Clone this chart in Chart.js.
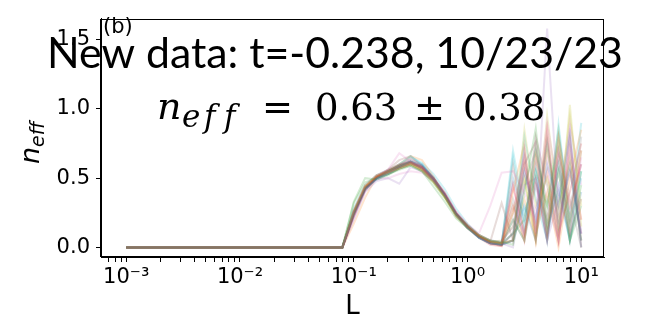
<!DOCTYPE html>
<html>
<head>
<meta charset="utf-8">
<script src="https://cdn.jsdelivr.net/npm/chart.js@4.4.1/dist/chart.umd.min.js"></script>
<style>
html,body{margin:0;padding:0;background:#fff;}
canvas{display:block;}
</style>
</head>
<body>
<canvas id="c" width="654" height="323"></canvas>
<script>
// ---- data ----
const L = [0.001, 0.0794, 0.1, 0.1259, 0.1585, 0.1995, 0.2512, 0.3162, 0.3981, 0.5012, 0.631, 0.7943,
           1.0, 1.259, 1.585, 1.995, 2.512, 3.162, 3.981, 5.012, 6.31, 7.943, 10.0];

const runs = [
  [0,0,0.24,0.42,0.50,0.55,0.59,0.63,0.60,0.50,0.38,0.24,0.14,0.07,0.03,0.02,0.10,0.55,0.20,0.75,0.15,0.60,0.05],
  [0,0,0.26,0.44,0.51,0.54,0.57,0.60,0.56,0.48,0.37,0.23,0.15,0.08,0.04,0.03,0.30,0.05,0.65,0.10,0.80,0.20,0.70],
  [0,0,0.33,0.50,0.49,0.52,0.57,0.59,0.55,0.47,0.36,0.24,0.16,0.09,0.05,0.04,0.02,0.40,0.86,0.15,0.55,0.05,0.45],
  [0,0,0.22,0.41,0.51,0.56,0.60,0.62,0.58,0.50,0.39,0.25,0.15,0.08,0.03,0.01,0.45,0.10,0.50,0.05,0.70,0.30,0.60],
  [0,0,0.20,0.40,0.48,0.50,0.46,0.58,0.55,0.48,0.38,0.25,0.16,0.09,0.05,0.04,0.15,0.70,0.10,1.58,0.25,0.55,0.10],
  [0,0,0.25,0.43,0.50,0.54,0.58,0.61,0.57,0.49,0.38,0.24,0.15,0.08,0.04,0.32,0.05,0.60,0.76,0.20,0.65,0.10,0.35],
  [0,0,0.27,0.45,0.52,0.56,0.68,0.62,0.58,0.50,0.40,0.26,0.17,0.10,0.30,0.54,0.55,0.40,0.20,0.65,0.05,0.75,0.20],
  [0,0,0.23,0.42,0.50,0.53,0.57,0.60,0.58,0.49,0.37,0.23,0.14,0.07,0.03,0.02,0.20,0.05,0.76,0.10,0.60,0.15,0.80],
  [0,0,0.25,0.44,0.51,0.55,0.59,0.61,0.56,0.47,0.36,0.23,0.14,0.08,0.04,0.03,0.05,0.85,0.30,0.50,0.10,1.03,0.15],
  [0,0,0.28,0.45,0.52,0.56,0.60,0.66,0.60,0.49,0.37,0.23,0.14,0.07,0.03,0.02,0.65,0.15,0.55,0.05,0.89,0.20,0.50],
  [0,0,0.24,0.43,0.49,0.53,0.58,0.62,0.59,0.51,0.39,0.25,0.15,0.07,0.03,0.02,0.05,0.30,0.05,0.60,0.30,0.80,0.00],
  [0,0,0.25,0.44,0.52,0.55,0.60,0.66,0.63,0.51,0.37,0.24,0.16,0.09,0.04,0.02,0.40,0.75,0.10,0.40,0.00,0.50,0.85],
  [0,0,0.26,0.42,0.50,0.53,0.56,0.59,0.55,0.44,0.33,0.21,0.14,0.08,0.05,0.03,0.10,0.20,0.70,0.30,0.75,0.05,0.30],
  [0,0,0.23,0.43,0.51,0.55,0.59,0.64,0.59,0.50,0.38,0.24,0.14,0.07,0.02,0.01,0.25,0.65,0.05,0.85,0.10,0.40,0.75],
  [0,0,0.22,0.41,0.50,0.54,0.58,0.61,0.57,0.49,0.38,0.24,0.15,0.08,0.04,0.03,0.00,0.45,0.50,0.05,0.35,0.85,0.10],
  [0,0,0.25,0.43,0.51,0.55,0.59,0.62,0.58,0.49,0.38,0.24,0.15,0.08,0.04,0.03,0.60,0.10,0.80,0.45,0.05,0.70,0.05],
  [0,0,0.26,0.44,0.50,0.50,0.53,0.55,0.54,0.48,0.37,0.23,0.14,0.07,0.03,0.02,0.05,0.55,0.25,0.90,0.40,0.10,0.65],
  [0,0,0.24,0.42,0.51,0.55,0.58,0.61,0.58,0.50,0.39,0.25,0.15,0.08,0.04,0.03,0.35,0.05,0.45,0.20,0.80,0.35,0.00],
  [0,0,0.27,0.45,0.52,0.55,0.58,0.60,0.55,0.47,0.36,0.22,0.14,0.08,0.04,0.05,0.15,0.50,0.05,0.70,0.25,0.95,0.30],
  [0,0,0.25,0.44,0.50,0.54,0.60,0.65,0.61,0.53,0.42,0.28,0.17,0.09,0.04,0.02,0.05,0.80,0.35,0.05,0.60,0.20,0.90],
  [0,0,0.26,0.43,0.50,0.55,0.59,0.62,0.57,0.48,0.37,0.24,0.15,0.08,0.04,0.03,0.50,0.20,0.60,0.10,0.45,0.05,0.40],
  [0,0,0.17,0.36,0.51,0.54,0.58,0.61,0.57,0.50,0.39,0.25,0.16,0.09,0.05,0.03,0.05,0.35,0.05,0.75,0.15,0.65,0.20],
  [0,0,0.32,0.47,0.50,0.53,0.57,0.60,0.56,0.48,0.37,0.23,0.14,0.08,0.04,0.02,0.20,0.05,0.55,0.30,0.85,0.15,0.55],
  [0,0,0.25,0.43,0.51,0.55,0.59,0.61,0.58,0.49,0.37,0.24,0.15,0.08,0.03,0.02,0.10,0.60,0.15,0.55,0.05,0.80,0.00],
  [0,0,0.24,0.42,0.49,0.53,0.57,0.60,0.56,0.49,0.38,0.25,0.16,0.09,0.05,0.04,0.30,0.10,0.45,0.05,0.70,0.25,0.60],
  [0,0,0.26,0.44,0.52,0.56,0.63,0.66,0.59,0.50,0.38,0.24,0.15,0.07,0.03,0.02,0.05,0.70,0.10,0.80,0.20,0.55,0.10],
  [0,0,0.25,0.43,0.50,0.54,0.58,0.61,0.57,0.49,0.38,0.24,0.15,0.08,0.04,0.03,0.45,0.05,0.65,0.35,0.05,0.90,0.45],
  [0,0,0.24,0.43,0.51,0.55,0.58,0.62,0.58,0.50,0.38,0.24,0.15,0.08,0.04,0.03,0.05,0.45,0.70,0.10,0.55,0.05,0.70],
  [0,0,0.25,0.44,0.51,0.55,0.59,0.62,0.57,0.49,0.37,0.24,0.15,0.08,0.04,0.03,0.25,0.50,0.05,0.95,0.30,0.60,0.05],
  [0,0,0.24,0.42,0.50,0.54,0.58,0.62,0.59,0.50,0.38,0.24,0.15,0.07,0.03,0.02,0.70,0.25,0.50,0.15,0.40,0.05,0.55]
];

const xMajorTicks = [0.001, 0.01, 0.1, 1, 10];
const xTickLabels = ['10\u207B\u00B3', '10\u207B\u00B2', '10\u207B\u00B9', '10\u2070', '10\u00B9'];
const yTicks = [0, 0.5, 1.0, 1.5];
const yTickLabels = ['0.0', '0.5', '1.0', '1.5'];

const titleText = 'New data: t=-0.238, 10/23/23';
const panelLabel = '(b)';

// ---- style ----
const palette = ['31,119,180','255,127,14','44,160,44','214,39,40','148,103,189',
                 '140,86,75','227,119,194','127,127,127','188,189,34','23,190,207'];
const X_MIN = Math.pow(10, -3.2), X_MAX = Math.pow(10, 1.2);

function buildXTicks() {
  const t = [];
  for (let e = -4; e <= 1; e++) {
    for (let m = 1; m <= 9; m++) {
      const v = m * Math.pow(10, e);
      if (v >= X_MIN && v <= X_MAX) t.push({value: v});
    }
  }
  return t;
}
function xLabel(v) {
  for (let i = 0; i < xMajorTicks.length; i++) {
    if (Math.abs(v / xMajorTicks[i] - 1) < 1e-6) return xTickLabels[i];
  }
  return '';
}

const textPlugin = {
  id: 'texts',
  beforeDraw(chart) {
    const ctx = chart.ctx;
    ctx.save();
    ctx.fillStyle = '#fff';
    ctx.fillRect(0, 0, chart.width, chart.height);
    ctx.restore();
  },
  afterDraw(chart) {
    const ctx = chart.ctx;
    const a = chart.chartArea;
    ctx.save();
    // frame
    ctx.strokeStyle = '#000';
    ctx.lineWidth = 1;
    ctx.strokeRect(Math.round(a.left) - 0.5, Math.round(a.top) + 0.5, Math.round(a.right - a.left), Math.round(a.bottom - a.top) - 1);

    ctx.fillStyle = '#000';
    ctx.textBaseline = 'alphabetic';
    ctx.textAlign = 'left';
    // panel label
    ctx.font = '21px "DejaVu Sans"';
    ctx.fillText(panelLabel, 103, 33);

    // big title
    let size = 44;
    ctx.font = size + 'px Lato';
    const w = ctx.measureText(titleText).width;
    size = size * 576 / w;
    ctx.font = size.toFixed(2) + 'px Lato';
    ctx.fillText(titleText, 47, 68);

    // formula line
    ctx.font = 'italic 38px "DejaVu Serif"';
    ctx.fillText('n', 157, 119);
    ctx.font = 'italic 31px "DejaVu Serif"';
    ctx.fillText('e', 182, 127);
    ctx.fillText('f', 204, 127);
    ctx.fillText('f', 224, 127);
    ctx.font = '37px "DejaVu Serif"';
    ctx.fillText('=', 262, 120);
    ctx.fillText('0.63', 315, 120);
    ctx.fillText('\u00B1', 414, 120);
    ctx.fillText('0.38', 463, 120);

    // y axis label n_eff (rotated)
    ctx.save();
    ctx.translate(39, 164);
    ctx.rotate(-Math.PI / 2);
    ctx.font = 'italic 27px "DejaVu Sans"';
    ctx.fillText('n', 0, 0);
    const nw = ctx.measureText('n').width;
    ctx.font = 'italic 19px "DejaVu Sans"';
    ctx.fillText('eff', nw, 5);
    ctx.restore();

    ctx.restore();
  }
};

Chart.defaults.font.family = '"DejaVu Sans"';
Chart.defaults.color = '#000';

new Chart(document.getElementById('c'), {
  type: 'line',
  data: {
    datasets: runs.map((r, i) => ({
      data: r.map((y, j) => ({x: L[j], y: y})),
      borderColor: 'rgba(' + palette[i % 10] + ',0.2)',
      borderWidth: 2,
      pointRadius: 0,
      tension: 0,
      fill: false
    }))
  },
  options: {
    responsive: false,
    animation: false,
    devicePixelRatio: 1,
    layout: {padding: {left: 0, right: 50, top: 7, bottom: 0}},
    plugins: {legend: {display: false}, tooltip: {enabled: false}, title: {display: false}},
    scales: {
      x: {
        type: 'logarithmic',
        min: X_MIN, max: X_MAX,
        afterBuildTicks: (s) => { s.ticks = buildXTicks(); },
        afterFit: (s) => { s.height = 66; },
        ticks: {
          autoSkip: false, maxRotation: 0, minRotation: 0, padding: 3,
          font: {size: 21}, color: '#000',
          callback: (v) => xLabel(v)
        },
        grid: {display: true, drawOnChartArea: false, drawTicks: true, tickLength: 5, color: '#000', tickColor: '#000'},
        border: {display: true, color: '#000', width: 1},
        title: {display: true, text: 'L', font: {size: 26}, color: '#000', padding: {top: 0, bottom: 0}}
      },
      y: {
        type: 'linear',
        min: -0.069, max: 1.652,
        afterBuildTicks: (s) => { s.ticks = yTicks.map(v => ({value: v})); },
        afterFit: (s) => { s.width = 101; },
        ticks: {
          padding: 6, font: {size: 21}, color: '#000',
          callback: (v) => { const i = yTicks.indexOf(v); return i >= 0 ? yTickLabels[i] : ''; }
        },
        grid: {display: true, drawOnChartArea: false, drawTicks: true, tickLength: 5, color: '#000', tickColor: '#000'},
        border: {display: true, color: '#000', width: 1}
      }
    }
  },
  plugins: [textPlugin]
});
</script>
</body>
</html>
